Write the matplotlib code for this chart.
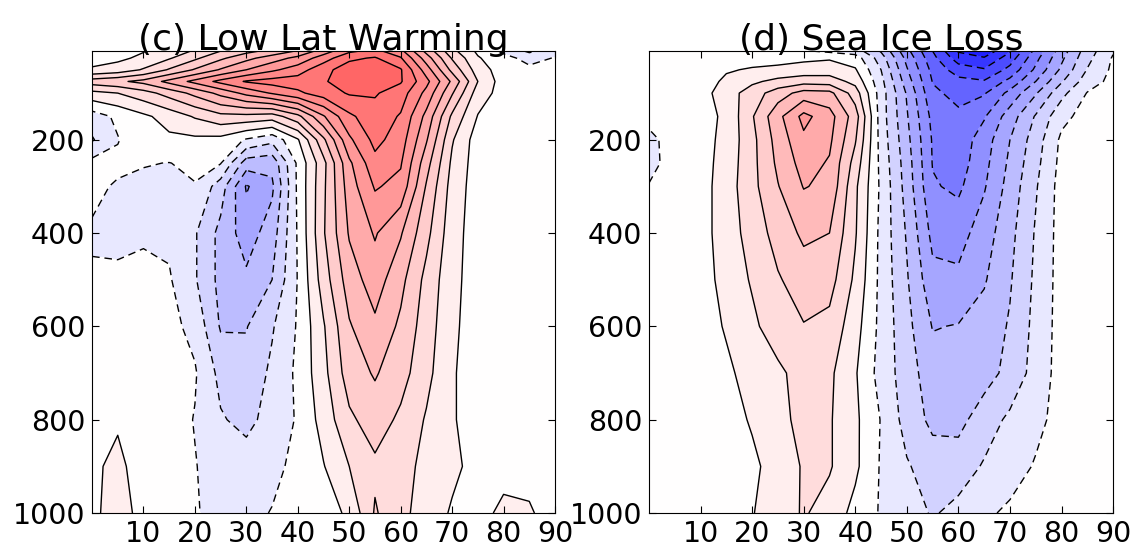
import numpy as np
import matplotlib
matplotlib.use("Agg")
import matplotlib.pyplot as plt
from matplotlib.colors import TwoSlopeNorm

# grid (lat every 5 deg, pressure in hPa)
lats = [0, 5, 10, 15, 20, 25, 30, 35, 40, 45, 50, 55, 60, 65, 70, 75, 80, 85, 90]
plev = [10, 25, 50, 75, 100, 150, 200, 250, 300, 400, 500, 600, 700, 800, 900, 1000]

# (c) Low Lat Warming: one profile (top -> surface) per latitude
lowlat_cols = [
    [0.1, 0.2, 0.6, 3.0, 1.2, -1.0, -1.6, -0.2, -0.3, -0.6, -0.4, -0.2, -0.1, 0.2, 0.2, 0.3],
    [0.2, 0.3, 0.9, 3.3, 1.5, -0.3, -0.55, -0.3, -0.6, -0.7, -0.35, -0.1, 0.0, 0.3, 0.9, 0.9],
    [0.45, 0.7, 1.6, 3.8, 2.1, 0.3, 0.1, -0.45, -0.7, -0.6, -0.3, 0.0, 0.0, 0.0, -0.3, 0.2],
    [1.0, 1.4, 2.6, 4.8, 2.9, 0.9, 0.3, -0.52, -0.7, -0.7, -0.4, -0.2, -0.1, 0.0, 0.0, 0.0],
    [1.6, 2.3, 3.6, 5.8, 3.8, 1.6, 0.3, -0.3, -0.55, -1.4, -1.4, -0.8, -0.4, -0.55, -0.45, -0.4],
    [2.5, 3.3, 4.6, 6.8, 4.8, 2.2, 0.2, -0.45, -2.0, -2.8, -2.8, -2.6, -1.8, -1.4, -1.0, -0.9],
    [3.2, 4.2, 5.5, 7.6, 5.8, 2.2, -0.6, -3.0, -4.6, -4.0, -3.3, -2.55, -2.2, -1.8, -1.0, -0.8],
    [3.8, 5.0, 6.3, 7.9, 6.6, 2.0, -1.2, -3.2, -3.7, -3.0, -2.5, -1.6, -1.3, -1.1, -0.8, -0.45],
    [4.6, 5.8, 7.0, 8.0, 7.3, 3.2, 0.4, -0.3, -0.3, -0.4, -0.45, -0.4, -0.3, -0.4, -0.2, 0.0],
    [6.0, 7.0, 8.2, 8.4, 8.0, 5.4, 3.3, 2.2, 2.3, 2.4, 2.0, 1.4, 1.2, 0.9, 0.45, 0.0],
    [7.3, 8.3, 9.0, 9.0, 8.6, 7.3, 6.3, 5.3, 5.0, 4.6, 4.0, 3.4, 3.0, 2.3, 1.5, 0.7],
    [7.8, 8.6, 9.2, 9.2, 8.6, 8.1, 7.8, 7.2, 6.6, 5.6, 5.0, 4.3, 3.6, 3.0, 2.3, 2.6],
    [6.8, 7.6, 8.6, 8.6, 8.0, 7.4, 7.0, 6.6, 6.2, 4.6, 3.8, 3.3, 2.9, 2.3, 1.9, 1.8],
    [4.2, 5.0, 6.0, 6.8, 6.2, 5.2, 4.6, 3.9, 3.4, 2.8, 2.2, 2.0, 1.8, 1.4, 1.2, 1.0],
    [1.8, 2.4, 3.2, 4.3, 3.6, 2.3, 1.6, 1.3, 1.1, 0.9, 0.8, 0.7, 0.6, 0.6, 0.7, 0.4],
    [0.3, 0.6, 1.0, 1.5, 1.0, 0.45, 0.0, 0.0, 0.0, 0.0, 0.0, 0.0, 0.0, 0.0, 0.2, 0.2],
    [-0.7, -0.2, 0.0, 0.0, 0.1, 0.0, 0.0, 0.0, 0.0, 0.0, 0.0, 0.0, 0.0, 0.0, 0.2, 0.7],
    [-1.7, -0.8, -0.3, -0.2, 0.0, 0.0, 0.0, 0.0, 0.0, 0.0, 0.0, 0.0, 0.0, 0.0, 0.2, 0.6],
    [-1.0, -0.45, -0.3, -0.1, -0.1, 0.0, 0.0, 0.0, 0.0, 0.0, 0.0, 0.0, 0.0, 0.0, 0.0, 0.1],
]

# (d) Sea Ice Loss
seaice_cols = [
    [0.0, 0.0, 0.0, 0.0, 0.0, -0.2, -0.75, -0.8, -0.45, 0.0, 0.0, 0.0, 0.0, 0.0, 0.0, 0.0],
    [0.0, 0.0, 0.0, 0.0, 0.0, 0.0, -0.1, -0.1, -0.05, 0.0, 0.0, 0.0, 0.0, 0.0, 0.0, 0.0],
    [0.0, 0.0, 0.0, 0.0, 0.1, 0.1, 0.1, 0.1, 0.1, 0.1, 0.0, 0.0, 0.0, 0.0, 0.0, 0.0],
    [0.0, 0.0, 0.4, 0.7, 1.0, 0.7, 0.8, 0.9, 1.0, 1.0, 0.9, 0.6, 0.3, 0.1, 0.0, 0.0],
    [0.0, 0.1, 0.6, 1.3, 2.0, 2.4, 2.2, 2.2, 2.2, 1.9, 1.6, 1.3, 0.9, 0.6, 0.3, 0.45],
    [-0.2, 0.2, 0.7, 1.8, 3.0, 4.2, 3.9, 3.7, 3.45, 2.9, 2.4, 2.0, 1.3, 1.2, 0.9, 1.0],
    [-0.4, 0.3, 0.9, 2.1, 3.9, 5.8, 5.3, 4.9, 4.55, 3.7, 3.0, 2.45, 1.9, 1.8, 1.6, 1.6],
    [-0.7, 0.4, 1.0, 2.0, 3.8, 4.9, 4.7, 4.4, 4.3, 3.5, 2.9, 2.2, 1.7, 1.6, 1.6, 1.1],
    [-1.0, 0.0, 0.6, 1.2, 2.0, 3.0, 2.6, 2.1, 1.7, 1.6, 1.3, 0.9, 0.6, 0.7, 0.7, 0.2],
    [-2.6, -2.0, -1.5, -1.2, -1.0, -1.0, -0.9, -0.8, -0.7, -0.8, -0.8, -0.8, -0.9, -0.55, -0.6, -0.6],
    [-5.2, -4.8, -4.4, -4.0, -3.6, -3.4, -3.2, -3.0, -2.9, -2.6, -2.4, -2.2, -2.0, -1.9, -1.4, -1.0],
    [-7.5, -7.2, -6.8, -6.55, -6.3, -5.8, -5.6, -5.55, -5.4, -4.8, -4.2, -3.55, -3.1, -2.75, -2.0, -1.6],
    [-9.6, -9.0, -8.0, -7.2, -6.8, -6.3, -6.1, -6.0, -5.7, -4.9, -4.3, -3.45, -3.2, -2.8, -2.0, -1.2],
    [-10.2, -9.4, -8.4, -7.4, -6.6, -5.6, -5.0, -4.8, -4.6, -4.0, -3.6, -3.1, -2.9, -2.0, -1.4, -0.7],
    [-8.6, -8.0, -7.2, -6.2, -5.2, -4.0, -3.5, -3.3, -3.1, -2.8, -2.6, -2.4, -2.2, -1.3, -1.0, -0.3],
    [-6.2, -5.8, -5.3, -4.5, -3.6, -2.4, -2.0, -1.8, -1.6, -1.4, -1.3, -1.2, -1.1, -0.8, -0.4, -0.2],
    [-4.0, -3.7, -3.3, -2.6, -1.8, -0.8, -0.3, -0.2, -0.1, -0.1, -0.1, -0.1, -0.1, -0.1, -0.1, 0.0],
    [-2.0, -1.8, -1.45, -1.0, -0.45, -0.1, 0.0, 0.0, 0.0, 0.0, 0.0, 0.0, 0.0, 0.0, 0.0, 0.0],
    [-0.6, -0.4, -0.3, -0.2, -0.1, 0.0, 0.0, 0.0, 0.0, 0.0, 0.0, 0.0, 0.0, 0.0, 0.0, 0.0],
]

titles = ["(c) Low Lat Warming", "(d) Sea Ice Loss"]
xticks = [10, 20, 30, 40, 50, 60, 70, 80, 90]
yticks = [200, 400, 600, 800, 1000]

levels = np.arange(-10.5, 10.6, 1.0)
norm = TwoSlopeNorm(vmin=-11.5, vcenter=0, vmax=15)

plt.rcParams['lines.dashed_pattern'] = [5.5, 3.5]

fig = plt.figure(figsize=(11.32, 5.46), dpi=100)
ax1 = fig.add_axes([0.0813, 0.0604, 0.409, 0.846])
ax2 = fig.add_axes([0.5733, 0.0604, 0.41, 0.846])

for ax, cols, title in zip([ax1, ax2], [lowlat_cols, seaice_cols], titles):
    u = np.array(cols).T
    ax.contourf(lats, plev, u, levels=levels, cmap='bwr', norm=norm, extend='both')
    ax.contour(lats, plev, u, levels=levels, colors='k', linewidths=1.0)
    ax.set_xlim(0, 90)
    ax.set_ylim(1000, 10)
    ax.set_xticks(xticks)
    ax.set_yticks(yticks)
    ax.tick_params(direction='in', top=True, right=True, length=5,
                   labelsize=20.5, pad=5)
    ax.set_title(title, fontsize=26, pad=1)

fig.savefig("out.png", dpi=100)
